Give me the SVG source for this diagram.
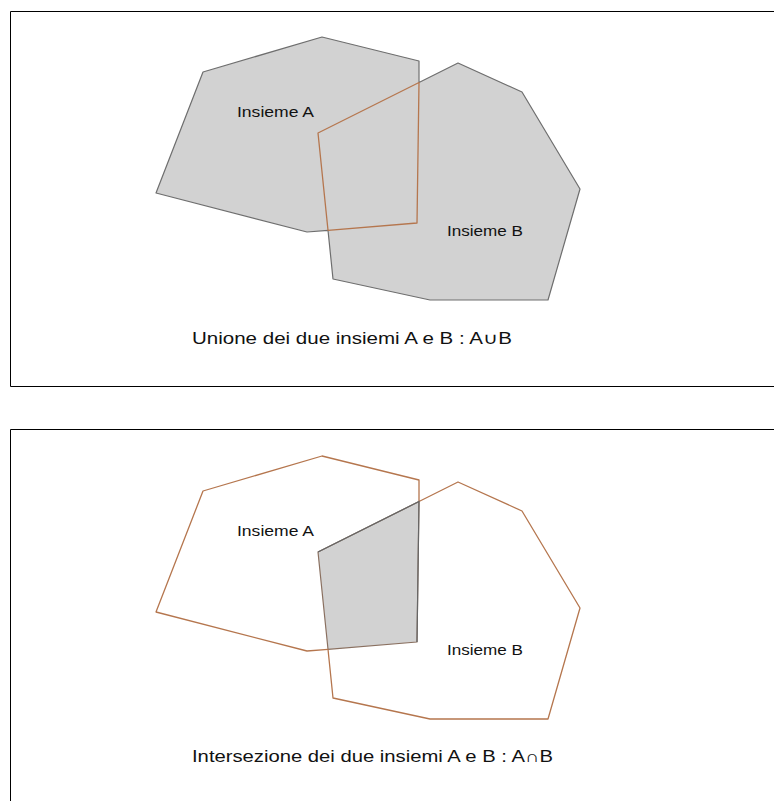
<svg xmlns="http://www.w3.org/2000/svg" width="774" height="801" viewBox="0 0 774 801">
<style>
.frame{fill:none;stroke:#000;stroke-width:1}
.fill{fill:#d2d2d2;stroke:none}
.outline{fill:none;stroke:#6e6e6e;stroke-width:1.2;stroke-linejoin:round}
.brown{fill:none;stroke:#b5764e;stroke-width:1.3;stroke-linejoin:round}
.inter{fill:#d2d2d2;stroke:#8a7060;stroke-width:1.2;stroke-linejoin:round}
.lbl{font-family:"Liberation Sans",Arial,sans-serif;font-size:14.5px;fill:#111}
.cap{font-family:"Liberation Sans",Arial,sans-serif;font-size:16px;fill:#111}
</style>
<rect width="774" height="801" fill="#fff"/>
<path class="frame" d="M774,11.5 H10.5 V386.5 H774"/>
<path class="frame" d="M774,429.5 H10.5 V801"/>
<g id="connectors"/>
<g id="union">
  <g id="unionA"><polygon class="fill" points="203,72 322,37 419,61 417,223 307,232 156,193"/></g>
  <g id="unionB"><polygon class="fill" points="458,63 522,92 580,189 548,300 430,300 333,279 318,133"/></g>
  <g id="unionOutline"><polygon class="outline" points="419,82.5 419,61 322,37 203,72 156,193 307,232 328,230.3 333,279 430,300 548,300 580,189 522,92 458,63"/></g>
  <g id="unionInter"><polygon class="brown" points="419,82.5 417,223 328,230.3 318,133"/></g>
  <g id="labelA1"><text class="lbl" x="237" y="117" textLength="77" lengthAdjust="spacingAndGlyphs">Insieme A</text></g>
  <g id="labelB1"><text class="lbl" x="447" y="236" textLength="76" lengthAdjust="spacingAndGlyphs">Insieme B</text></g>
  <g id="caption1"><text class="cap" x="192" y="344" textLength="320" lengthAdjust="spacingAndGlyphs">Unione dei due insiemi A e B : A∪B</text></g>
</g>
<g id="intersection" transform="translate(0,419)">
  <g id="interRegion"><polygon class="inter" points="419,82.5 417,223 328,230.3 318,133"/></g>
  <g id="interA"><polyline class="brown" points="419,82.5 419,61 322,37 203,72 156,193 307,232 328,230.3"/></g>
  <g id="interB"><polyline class="brown" points="328,230.3 333,279 430,300 548,300 580,189 522,92 458,63 419,82.5"/></g>
  <g id="interEdges"><polyline fill="none" stroke="#666" stroke-width="1.2" points="318,133 419,82.5 417,223"/></g>
  <g id="labelA2"><text class="lbl" x="237" y="117" textLength="77" lengthAdjust="spacingAndGlyphs">Insieme A</text></g>
  <g id="labelB2"><text class="lbl" x="447" y="236" textLength="76" lengthAdjust="spacingAndGlyphs">Insieme B</text></g>
  <g id="caption2"><text class="cap" x="192" y="343" textLength="361" lengthAdjust="spacingAndGlyphs">Intersezione dei due insiemi A e B : A∩B</text></g>
</g>
</svg>
